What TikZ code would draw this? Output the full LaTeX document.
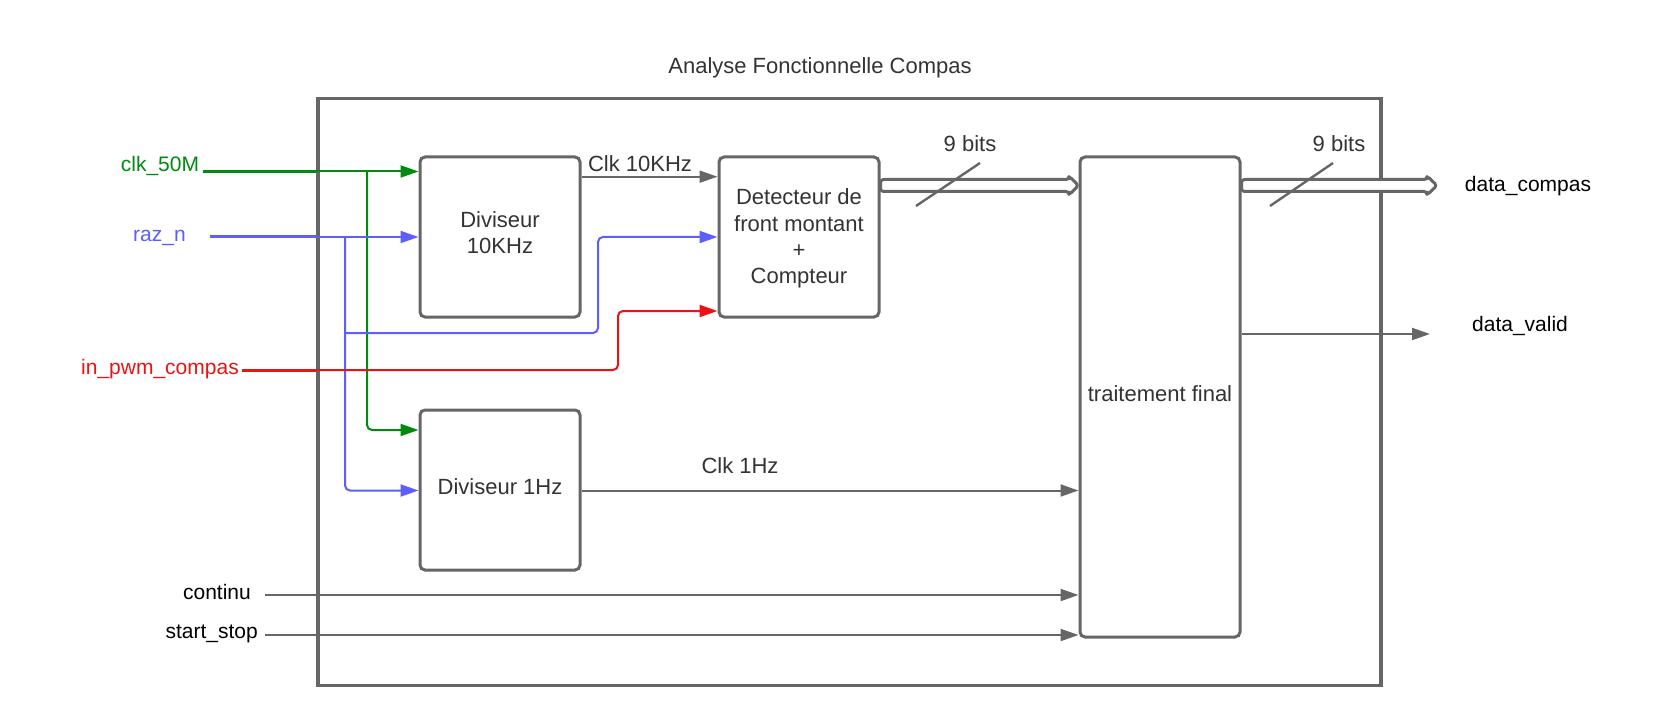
\documentclass[tikz,border=0pt]{standalone}
\usepackage{fontspec}
\setmainfont{Liberation Sans}
\usetikzlibrary{arrows.meta,calc}
\definecolor{lgray}{HTML}{666666}
\definecolor{lgreen}{HTML}{008A0E}
\definecolor{lblue}{HTML}{5E5EFF}
\definecolor{lred}{HTML}{E81313}
\definecolor{ltext}{HTML}{333333}
\begin{document}
\begin{tikzpicture}[x=0.5pt,y=-0.5pt,
  frame/.style={draw=lgray, line width=1.7pt, minimum width=531.5pt, minimum height=293.5pt, inner sep=0pt},
  box/.style={draw=lgray, line width=1.5pt, rounded corners=2.5pt, fill=white, minimum width=80pt, minimum height=80pt, inner sep=0pt},
  boxtext/.style={inner sep=0pt, align=center, font=\fontsize{11}{13.2}\selectfont, text=ltext},
  wire/.style={line width=1pt, draw=lgray},
  tip/.style={-{Triangle[length=9pt,width=6pt]}},
  thickwire/.style={line width=1.5pt},
  bus/.style={draw=lgray, line width=1.5pt, fill=white, rounded corners=1.5pt, line join=round},
  slash/.style={draw=lgray, line width=1.2pt},
  lab/.style={font=\fontsize{10.5}{12}\selectfont, inner sep=0pt, anchor=base},
  dlab/.style={lab, text=ltext, font=\fontsize{11}{12}\selectfont},
  corner/.style={rounded corners=2.5pt}]
\useasboundingbox (0,0) rectangle (1680,727);

% outer frame and title
\node[frame] (F) at (849.5,392) {};
\node[lab, text=ltext, font=\fontsize{11}{12}\selectfont] (title) at (820,74) {Analyse Fonctionnelle Compas};

% blocks
\node[box, label={[boxtext, yshift=2.2pt]center:Diviseur\\10KHz}] (A) at (500,237) {};
\node[box, label={[boxtext, yshift=-0.8pt]center:Detecteur de\\front montant\\+\\Compteur}] (B) at (799,237) {};
\node[box, minimum height=240pt, label={[boxtext, yshift=1.6pt]center:traitement final}] (C) at (1160,397) {};
\node[box, label={[boxtext, yshift=1.6pt]center:Diviseur 1Hz}] (D) at (500,490) {};

% input labels
\node[lab, text=lgreen] (clk) at (160,171.5) {clk\_50M};
\node[lab, text=lblue] (raz) at (159.5,241.5) {raz\_n};
\node[lab, text=lred] (pwm) at (160,374.5) {in\_pwm\_compas};
\node[lab] (cont) at (217,599) {continu};
\node[lab] (ss) at (211.7,638.5) {start\_stop};
\node[lab] (dc) at (1528,192) {data\_compas};
\node[lab] (dv) at (1520,331.5) {data\_valid};

% connector labels
\node[dlab] (l10k) at (640,172) {Clk 10KHz};
\node[dlab] (l1hz) at (740,473) {Clk 1Hz};
\node[dlab] (b1) at (970,152) {9 bits};
\node[dlab] (b2) at (1339,152) {9 bits};

% start and branch points
\coordinate (clkS) at (203,171.5);
\coordinate (razS) at (210,237);
\coordinate (pwmS) at (241.7,370);
\coordinate (contS) at (265,595);
\coordinate (ssS) at (265,635);
\coordinate (gj) at (367,171.5);
\coordinate (bj) at (345,237);
\coordinate (bj2) at (345,333);
\coordinate (rowD1) at (0,430);
\coordinate (rowD2) at (0,490.5);
\coordinate (rowB2) at (0,237);
\coordinate (rowB3) at (0,311);
\coordinate (row10k) at (0,176.7);
\coordinate (rowV) at (0,334);
\coordinate (dvE) at (1430,334);

% clk_50M (green)
\draw[lgreen, thickwire] (clkS) -- (F.west |- clkS);
\draw[lgreen, line width=1pt, tip] (F.west |- clkS) -- (A.west |- clkS);
\draw[lgreen, line width=1pt, tip, corner] (gj) |- (D.west |- rowD1);

% raz_n (blue)
\draw[lblue, thickwire] (razS) -- (F.west |- razS);
\draw[lblue, line width=1pt, tip] (F.west |- razS) -- (A.west |- razS);
\draw[lblue, line width=1pt, tip, corner] (bj) |- (D.west |- rowD2);
\draw[lblue, line width=1pt, tip, corner] (bj2) -- (598,333) -- (598,237) -- (B.west |- rowB2);

% in_pwm_compas (red)
\draw[lred, thickwire] (pwmS) -- (F.west |- pwmS);
\draw[lred, line width=1pt, tip, corner] (F.west |- pwmS) -- (618,370) -- (618,311) -- (B.west |- rowB3);

% gray connectors
\draw[wire, tip] (A.east |- row10k) -- (B.west |- row10k);
\draw[wire, tip] (D.east |- rowD2) -- (C.west |- rowD2);
\draw[wire, tip] (contS) -- (C.west |- contS);
\draw[wire, tip] (ssS) -- (C.west |- ssS);
\draw[wire, tip] (C.east |- rowV) -- (dvE);

% buses
\draw[bus] (B.east |- 0,185.5) -- (B.east |- 0,179.5) -- (1069,179.5) -- (1069,176) -- (C.west |- 0,185.5) -- (1069,195) -- (1069,191.5) -- (B.east |- 0,191.5) -- cycle;
\draw[bus] (C.east |- 0,185.5) -- (C.east |- 0,179.5) -- (1427,179.5) -- (1427,176) -- (1437,185.5) -- (1427,195) -- (1427,191.5) -- (C.east |- 0,191.5) -- cycle;
\draw[slash] (916,206) -- (980,163);
\draw[slash] (1270,206) -- (1333,163);
\end{tikzpicture}
\end{document}
